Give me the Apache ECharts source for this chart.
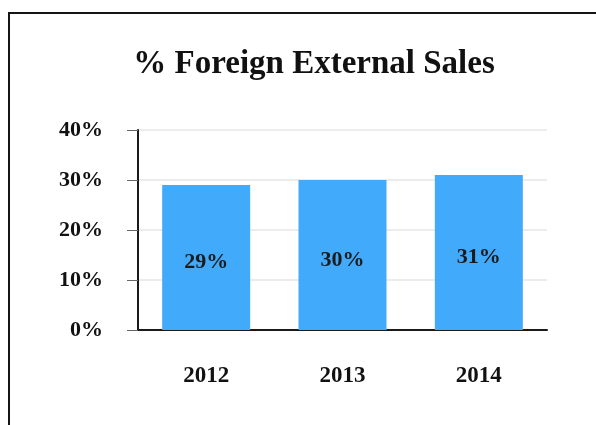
<!DOCTYPE html>
<html>
<head>
<meta charset="utf-8">
<script src="https://cdn.jsdelivr.net/npm/echarts@6/dist/echarts.min.js"></script>
<style>
  html, body { margin: 0; padding: 0; background: #fff; }
  #chart { position: absolute; left: 0; top: 0; width: 596px; height: 425px; }
  /* frame around the figure, only top and left edges are visible */
  #frame {
    position: absolute; left: 8px; top: 12px; width: 700px; height: 500px;
    border-top: 2px solid #151515; border-left: 2px solid #151515;
    pointer-events: none;
  }
</style>
</head>
<body>
<div id="chart"></div>
<div id="frame"></div>
<script>
// chart data
const years = ['2012', '2013', '2014']
const foreignShare = [29, 30, 31]
const yTicks = [0, 10, 20, 30, 40]

const font = 'Liberation Serif, Times New Roman, serif'

const chart = echarts.init(document.getElementById('chart'))

const option = {
  animation: false,
  title: {
    text: '% Foreign External Sales',
    left: 309,
    textAlign: 'center',
    top: 43,
    textStyle: {
      fontFamily: font,
      fontWeight: 'bold',
      fontSize: 33,
      color: '#111',
    },
  },
  grid: {
    left: 138,
    right: 49,
    top: 130,
    bottom: 95,
  },
  xAxis: {
    type: 'category',
    data: years,
    axisLine: { lineStyle: { color: '#1a1a1a', width: 2 } },
    axisTick: { alignWithLabel: true, length: 11, lineStyle: { color: '#555', width: 2 } },
    axisLabel: {
      margin: 35,
      fontFamily: font,
      fontWeight: 'bold',
      fontSize: 23,
      color: '#111',
    },
  },
  yAxis: {
    type: 'value',
    min: yTicks[0],
    max: yTicks[yTicks.length - 1],
    interval: 10,
    axisLine: { show: true, lineStyle: { color: '#1a1a1a', width: 2 } },
    axisTick: { show: true, length: 11, lineStyle: { color: '#666', width: 1 } },
    splitLine: { lineStyle: { color: '#e6e6e6', width: 1.5 } },
    axisLabel: {
      margin: 35,
      formatter: '{value}%',
      fontFamily: font,
      fontWeight: 'bold',
      fontSize: 22,
      color: '#111',
    },
  },
  series: [
    {
      type: 'bar',
      data: foreignShare,
      barWidth: 88,
      itemStyle: { color: '#42aafa' },
      label: {
        show: true,
        position: 'inside',
        offset: [0, 5],
        formatter: '{c}%',
        fontFamily: font,
        fontWeight: 'bold',
        fontSize: 22,
        color: '#1b1b1b',
      },
    },
  ],
}

chart.setOption(option)
</script>
</body>
</html>
